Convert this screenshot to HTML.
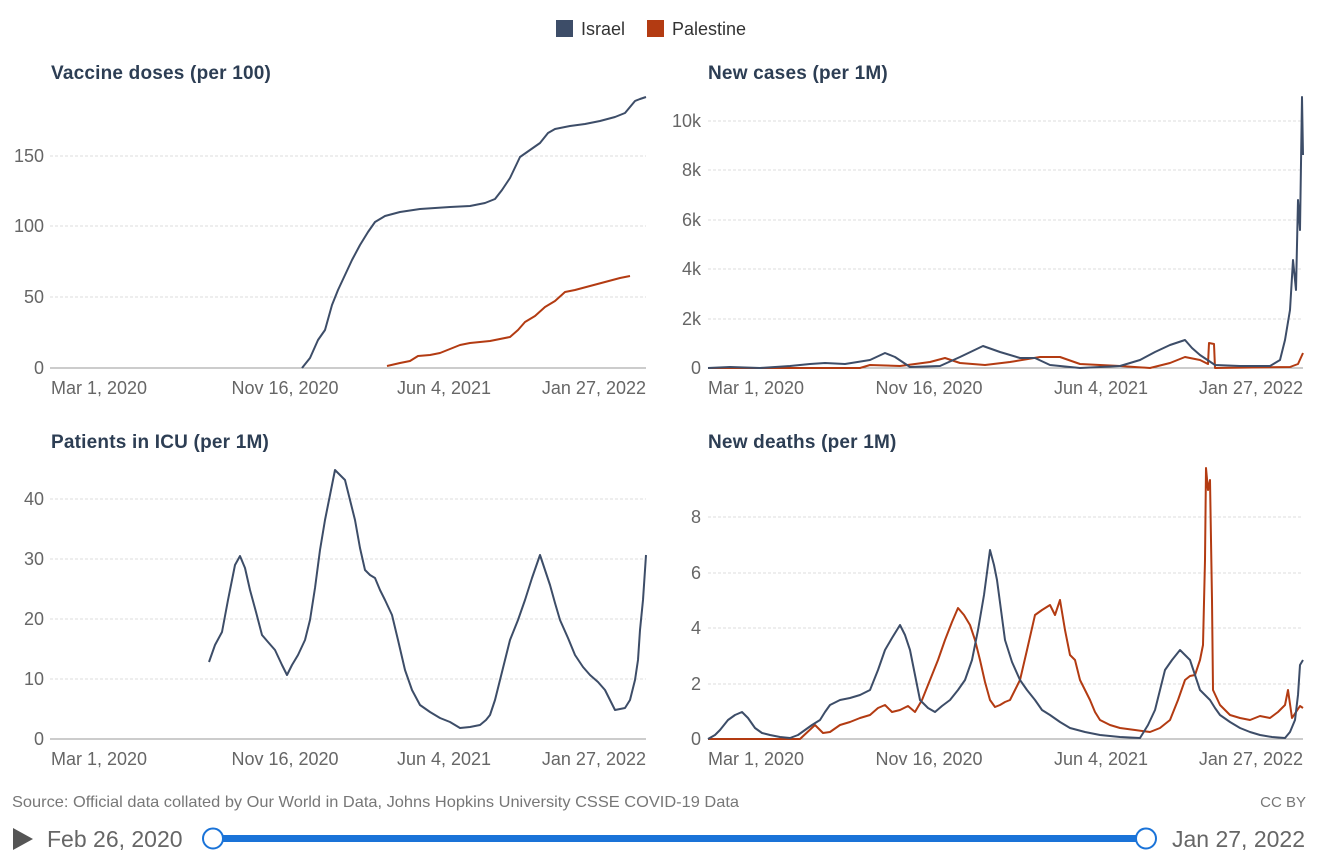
<!DOCTYPE html>
<html><head><meta charset="utf-8"><style>
body{margin:0;background:#fff;}
svg{display:block;font-family:"Liberation Sans",sans-serif;}
.t{font-size:19px;font-weight:bold;fill:#2d3e54;letter-spacing:0.2px}
.ax{font-size:18px;fill:#666}
.g{stroke:#ddd;stroke-dasharray:3 2;stroke-width:1}
.b{stroke:#999;stroke-width:1}
.i{fill:none;stroke:#3d4d68;stroke-width:2;stroke-linejoin:round}
.p{fill:none;stroke:#b33b12;stroke-width:2;stroke-linejoin:round}
</style></head><body>
<svg width="1324" height="860" viewBox="0 0 1324 860">
<rect x="556" y="20" width="17" height="17" fill="#3d4d68"/><text x="581" y="35" font-size="18" fill="#333">Israel</text>
<rect x="647" y="20" width="17" height="17" fill="#b33b12"/><text x="672" y="35" font-size="18" fill="#333">Palestine</text>

<text class="t" x="51" y="79">Vaccine doses (per 100)</text>
<text class="t" x="708" y="79">New cases (per 1M)</text>
<text class="t" x="51" y="448">Patients in ICU (per 1M)</text>
<text class="t" x="708" y="448">New deaths (per 1M)</text>

<g>
<line class="g" x1="50" x2="646" y1="156" y2="156"/><line class="g" x1="50" x2="646" y1="226" y2="226"/><line class="g" x1="50" x2="646" y1="297" y2="297"/>
<line class="b" x1="50" x2="646" y1="368" y2="368"/>
<g class="ax" text-anchor="end"><text x="44" y="162">150</text><text x="44" y="232">100</text><text x="44" y="303">50</text><text x="44" y="374">0</text></g>
<g class="ax"><text x="51" y="394">Mar 1, 2020</text><text x="285" y="394" text-anchor="middle">Nov 16, 2020</text><text x="444" y="394" text-anchor="middle">Jun 4, 2021</text><text x="646" y="394" text-anchor="end">Jan 27, 2022</text></g>
</g>
<polyline class="i" points="302,368 310,358 318,340 325,330 332,305 338,290 345,275 352,260 360,245 368,232 375,222 385,216 400,212 420,209 450,207 470,206 485,203 495,199 502,190 510,178 520,157 530,150 540,143 548,133 555,129 570,126 585,124 600,121 615,117 625,113 630,107 635,101 640,99 646,97"/>
<polyline class="p" points="387,366 400,363 410,361 418,356 430,355 440,353 450,349 460,345 470,343 490,341 510,337 518,330 525,322 535,316 545,307 555,301 565,292 575,290 590,286 605,282 620,278 630,276"/>

<g>
<line class="g" x1="708" x2="1303" y1="121" y2="121"/><line class="g" x1="708" x2="1303" y1="170" y2="170"/><line class="g" x1="708" x2="1303" y1="220" y2="220"/><line class="g" x1="708" x2="1303" y1="269" y2="269"/><line class="g" x1="708" x2="1303" y1="319" y2="319"/>
<line class="b" x1="708" x2="1303" y1="368" y2="368"/>
<g class="ax" text-anchor="end"><text x="701" y="127">10k</text><text x="701" y="176">8k</text><text x="701" y="226">6k</text><text x="701" y="275">4k</text><text x="701" y="325">2k</text><text x="701" y="374">0</text></g>
<g class="ax"><text x="708" y="394">Mar 1, 2020</text><text x="929" y="394" text-anchor="middle">Nov 16, 2020</text><text x="1101" y="394" text-anchor="middle">Jun 4, 2021</text><text x="1303" y="394" text-anchor="end">Jan 27, 2022</text></g>
</g>
<polyline class="p" points="708,368 860,368 870,365 900,366 930,362 945,358 960,363 985,365 1010,362 1040,357 1060,357 1080,364 1120,366 1150,368 1170,363 1185,357 1200,360 1208,364 1209,343 1214,344 1215,368 1290,367 1298,364 1303,353"/>
<polyline class="i" points="708,368 730,367 760,368 790,366 810,364 825,363 845,364 870,360 885,353 895,357 910,367 940,366 960,357 983,346 1000,352 1020,358 1035,358 1050,365 1080,368 1120,366 1140,360 1155,352 1170,345 1185,340 1192,348 1200,355 1215,365 1240,366 1270,366 1280,360 1285,340 1290,310 1293,260 1296,290 1298,200 1300,230 1302,97 1303,155"/>

<g>
<line class="g" x1="50" x2="646" y1="499" y2="499"/><line class="g" x1="50" x2="646" y1="559" y2="559"/><line class="g" x1="50" x2="646" y1="619" y2="619"/><line class="g" x1="50" x2="646" y1="679" y2="679"/>
<line class="b" x1="50" x2="646" y1="739" y2="739"/>
<g class="ax" text-anchor="end"><text x="44" y="505">40</text><text x="44" y="565">30</text><text x="44" y="625">20</text><text x="44" y="685">10</text><text x="44" y="745">0</text></g>
<g class="ax"><text x="51" y="765">Mar 1, 2020</text><text x="285" y="765" text-anchor="middle">Nov 16, 2020</text><text x="444" y="765" text-anchor="middle">Jun 4, 2021</text><text x="646" y="765" text-anchor="end">Jan 27, 2022</text></g>
</g>
<polyline class="i" points="209,662 215,645 222,632 228,600 235,565 240,556 245,568 250,590 256,612 262,635 268,642 275,650 282,665 287,675 292,665 298,655 305,640 310,620 315,588 320,550 325,520 330,495 335,470 340,475 345,480 350,500 355,520 360,548 365,570 370,575 375,578 380,590 385,600 392,615 398,640 405,670 412,690 420,705 430,712 440,718 450,722 460,728 470,727 480,725 486,720 490,715 495,700 500,680 505,660 510,640 518,620 525,600 532,578 540,555 545,570 550,585 555,603 560,620 568,638 575,655 583,667 590,675 598,682 605,690 610,700 615,710 620,709 625,708 630,700 635,680 638,660 640,630 643,600 646,555"/>

<g>
<line class="g" x1="708" x2="1303" y1="517" y2="517"/><line class="g" x1="708" x2="1303" y1="573" y2="573"/><line class="g" x1="708" x2="1303" y1="628" y2="628"/><line class="g" x1="708" x2="1303" y1="684" y2="684"/>
<line class="b" x1="708" x2="1303" y1="739" y2="739"/>
<g class="ax" text-anchor="end"><text x="701" y="523">8</text><text x="701" y="579">6</text><text x="701" y="634">4</text><text x="701" y="690">2</text><text x="701" y="745">0</text></g>
<g class="ax"><text x="708" y="765">Mar 1, 2020</text><text x="929" y="765" text-anchor="middle">Nov 16, 2020</text><text x="1101" y="765" text-anchor="middle">Jun 4, 2021</text><text x="1303" y="765" text-anchor="end">Jan 27, 2022</text></g>
</g>
<polyline class="p" points="708,739 800,739 815,725 823,733 830,732 840,725 850,722 860,718 870,715 878,708 885,705 892,712 900,710 908,706 915,712 922,700 930,680 938,660 945,640 952,622 958,608 964,615 970,625 975,640 980,660 985,682 990,700 995,707 1000,705 1005,702 1010,700 1015,690 1020,680 1027,650 1035,615 1042,610 1050,605 1055,615 1060,600 1065,630 1070,655 1075,660 1080,680 1085,690 1090,700 1095,712 1100,720 1110,725 1120,728 1135,730 1150,732 1160,728 1170,720 1178,700 1185,680 1190,676 1195,675 1200,660 1203,645 1205,560 1206,468 1208,490 1210,480 1212,600 1213,690 1220,705 1230,715 1240,718 1250,720 1260,716 1270,718 1278,712 1285,705 1288,690 1292,718 1296,712 1300,706 1303,708"/>
<polyline class="i" points="708,739 715,735 720,730 728,720 735,715 742,712 748,718 755,728 762,733 770,735 780,737 790,738 798,735 805,730 812,725 820,720 825,712 830,705 840,700 850,698 860,695 870,690 878,670 885,650 892,638 900,625 905,635 910,650 915,675 920,700 928,708 935,712 942,706 950,700 958,690 965,680 972,660 978,630 984,595 990,550 994,565 997,580 1001,610 1005,640 1012,662 1020,680 1027,690 1035,700 1042,710 1050,715 1060,722 1070,728 1085,732 1100,735 1120,737 1140,738 1148,725 1155,710 1160,690 1165,670 1172,660 1180,650 1185,655 1190,660 1195,675 1200,690 1205,695 1210,700 1215,708 1220,715 1230,722 1240,728 1250,732 1260,735 1272,737 1285,738 1290,732 1295,720 1298,695 1300,665 1303,660"/>

<text x="12" y="807" font-size="16" fill="#777" textLength="727" lengthAdjust="spacingAndGlyphs">Source: Official data collated by Our World in Data, Johns Hopkins University CSSE COVID-19 Data</text>
<text x="1306" y="807" font-size="15" fill="#777" text-anchor="end">CC BY</text>
<polygon points="13,828 13,850 33,839" fill="#555"/>
<text x="47" y="847" font-size="23" fill="#666">Feb 26, 2020</text>
<rect x="213" y="835" width="933" height="7" rx="3" fill="#1a73d8"/>
<circle cx="213" cy="838.5" r="10" fill="#fff" stroke="#1a73d8" stroke-width="2"/>
<circle cx="1146" cy="838.5" r="10" fill="#fff" stroke="#1a73d8" stroke-width="2"/>
<text x="1305" y="847" font-size="23" fill="#666" text-anchor="end">Jan 27, 2022</text>
</svg>
</body></html>
